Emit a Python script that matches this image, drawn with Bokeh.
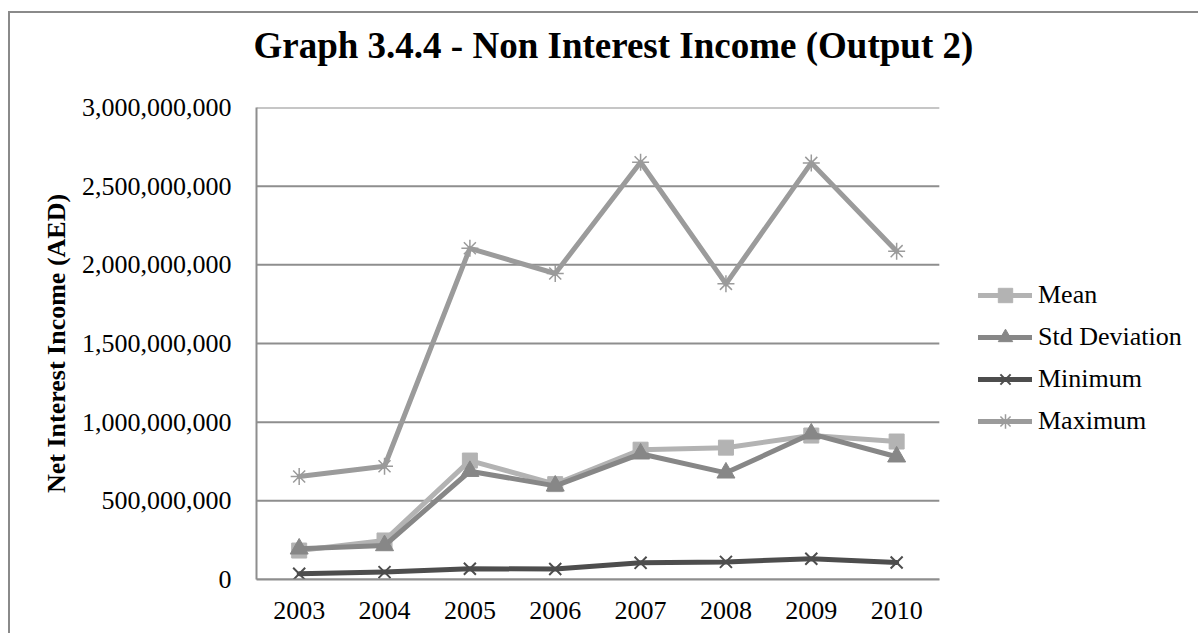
from bokeh.plotting import figure
from bokeh.models import Range1d, FixedTicker, NumeralTickFormatter, Legend, LegendItem, Title
from bokeh.embed import file_html
from bokeh.resources import INLINE

# ---- data ----
years = ["2003", "2004", "2005", "2006", "2007", "2008", "2009", "2010"]
mean = [184e6, 248e6, 756e6, 606e6, 825e6, 838e6, 915e6, 877e6]
std_dev = [195e6, 216e6, 688e6, 595e6, 799e6, 678e6, 926e6, 780e6]
minimum = [36e6, 47e6, 68e6, 67e6, 106e6, 112e6, 132e6, 108e6]
maximum = [655e6, 720e6, 2105e6, 1945e6, 2652e6, 1879e6, 2648e6, 2087e6]
y_ticks = [0, 500e6, 1000e6, 1500e6, 2000e6, 2500e6, 3000e6]
series_names = ["Mean", "Std Deviation", "Minimum", "Maximum"]
title_text = "Graph 3.4.4 - Non Interest Income (Output 2)"
y_title = "Net Interest Income (AED)"

FONT = "Liberation Serif"
GRID = "#8e8e8e"

n = len(years)
xs = [i + 0.5 for i in range(n)]          # category centres on a numeric scale

p = figure(
    x_range=Range1d(0, 11.06),             # extra room on the right for the legend
    y_range=Range1d(0, 3e9),
    width=1190, height=622,
    output_backend="svg", toolbar_location=None,
    min_border_left=246, min_border_right=0,
    min_border_top=94, min_border_bottom=56,
)
p.styles = {
    "margin-left": "8px", "margin-top": "11px",
    "border-left": "2px solid #8a8a8a", "border-top": "2px solid #8a8a8a",
}
p.outline_line_color = None
p.background_fill_color = "white"
p.border_fill_color = "white"

# spacer between frame and title (title is placed outermost)
p.add_layout(Title(text=" ", text_font_size="2px", standoff=33), "above")

# title
p.title.text = title_text
p.title.align = "left"
p.title.offset = -3
p.title.standoff = 10
p.title.text_font = FONT
p.title.text_font_size = "37px"
p.title.text_font_style = "bold"
p.title.text_color = "black"

# axes
for ax in (p.xaxis[0], p.yaxis[0]):
    ax.axis_line_color = GRID
    ax.axis_line_width = 2
    ax.major_tick_in = 0
    ax.major_tick_out = 0
    ax.minor_tick_in = 0
    ax.minor_tick_out = 0
    ax.major_label_text_font = FONT
    ax.major_label_text_font_size = "26px"
    ax.major_label_text_color = "black"

p.xaxis.ticker = FixedTicker(ticks=xs)
p.xaxis.major_label_overrides = {x: y for x, y in zip(xs, years)}
p.xaxis.bounds = (0, n)
p.xaxis.major_label_standoff = 22
p.yaxis.ticker = FixedTicker(ticks=y_ticks)
p.yaxis.formatter = NumeralTickFormatter(format="0,0")
p.yaxis.major_label_standoff = 25
p.yaxis.axis_label = y_title
p.yaxis.axis_label_text_font = FONT
p.yaxis.axis_label_text_font_size = "26px"
p.yaxis.axis_label_text_font_style = "bold"
p.yaxis.axis_label_text_color = "black"
p.yaxis.axis_label_standoff = 8

# horizontal gridlines only across the category area
p.xgrid.visible = False
p.ygrid.visible = False
p.segment(x0=[0] * len(y_ticks), x1=[n] * len(y_ticks), y0=y_ticks, y1=y_ticks,
          line_color=GRID, line_width=2)

# series
styles = [
    dict(color="#b3b3b3", marker="square", size=15, lw=0),
    dict(color="#878787", marker="triangle", size=18, lw=0),
    dict(color="#4d4d4d", marker="x", size=17, lw=2),
    dict(color="#9b9b9b", marker="asterisk", size=17, lw=1.5),
]
values = [mean, std_dev, minimum, maximum]
items = []
for name, vals, st in zip(series_names, values, styles):
    lr = p.line(xs, vals, line_color=st["color"], line_width=5, line_join="round", line_cap="round")
    if st["lw"] == 0:
        sr = p.scatter(xs, vals, marker=st["marker"], size=st["size"],
                       fill_color=st["color"], line_color=st["color"])
    else:
        sr = p.scatter(xs, vals, marker=st["marker"], size=st["size"],
                       line_color=st["color"], line_width=st["lw"], fill_color=None)
    items.append(LegendItem(label=name, renderers=[lr, sr]))

legend = Legend(
    items=items, location=(722, 140),
    glyph_width=54, glyph_height=36, label_standoff=6, spacing=6,
    padding=0, margin=0, border_line_color=None, background_fill_alpha=0,
    label_text_font=FONT, label_text_font_size="26px", label_text_color="black",
)
p.add_layout(legend)

open("out.html", "w").write(file_html(p, INLINE))
